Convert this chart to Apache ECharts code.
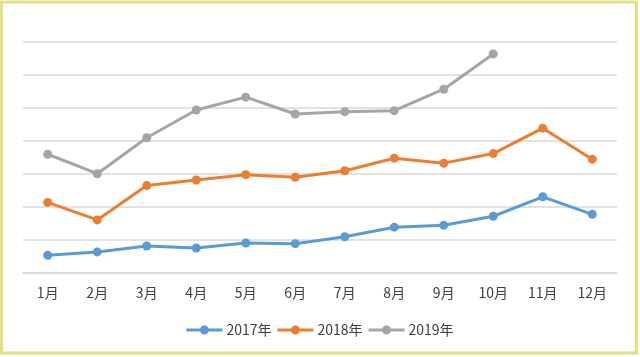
<!DOCTYPE html>
<html><head><meta charset="utf-8">
<script src="https://cdn.jsdelivr.net/npm/echarts@6/dist/echarts.min.js"></script>
<style>html,body{margin:0;padding:0;background:#fff}#c{width:640px;height:357px}</style>
</head><body><div id="c"></div>
<script>
const categories = ['1月','2月','3月','4月','5月','6月','7月','8月','9月','10月','11月','12月'];
const s2017 = [0.53,0.63,0.81,0.75,0.90,0.88,1.09,1.38,1.44,1.71,2.30,1.77];
const s2018 = [2.13,1.60,2.64,2.81,2.97,2.89,3.09,3.47,3.32,3.61,4.38,3.44];
const s2019 = [3.59,3.00,4.09,4.93,5.32,4.81,4.88,4.91,5.56,6.63];
const seriesNames = ['2017年','2018年','2019年'];
const colors = ['#5b9bd5','#ed7d31','#a5a5a5'];

const chart = echarts.init(document.getElementById('c'));
const mk = (name, data, color) => ({
  name, type:'line', data, symbol:'circle', symbolSize:9,
  lineStyle:{width:3,color}, itemStyle:{color}, animation:false
});
const legendIcon = 'path://M0,3.6 L36,3.6 L36,6.4 L0,6.4 Z M22.5,5 A4.5,4.5 0 1,1 13.5,5 A4.5,4.5 0 1,1 22.5,5 Z';
chart.setOption({
  animation:false,
  textStyle:{fontFamily:'"Noto Sans CJK SC", sans-serif'},
  graphic:[{type:'rect',shape:{x:1.5,y:2,width:635,height:351},
    style:{fill:'none',stroke:'#e3df86',lineWidth:3},silent:true}],
  grid:{left:23,right:23,top:41.7,bottom:84.3},
  legend:{bottom:15,left:'center',itemWidth:36,itemHeight:9,itemGap:6,
    icon:legendIcon,
    textStyle:{fontSize:14,color:'#404040',padding:[0,0,0,-1],fontFamily:'"Noto Sans CJK SC", sans-serif'},
    data:seriesNames},
  xAxis:{type:'category',data:categories,boundaryGap:true,
    axisLine:{lineStyle:{color:'#d9d9d9',width:1.5}},axisTick:{show:false},
    axisLabel:{fontSize:14,color:'#404040',margin:13,fontFamily:'"Noto Sans CJK SC", sans-serif'}},
  yAxis:{type:'value',min:0,max:7,interval:1,axisLabel:{show:false},
    axisLine:{show:false},axisTick:{show:false},
    splitLine:{lineStyle:{color:'#d9d9d9',width:1.5}}},
  series:[mk(seriesNames[0],s2017,colors[0]),mk(seriesNames[1],s2018,colors[1]),mk(seriesNames[2],s2019,colors[2])]
});
</script></body></html>
